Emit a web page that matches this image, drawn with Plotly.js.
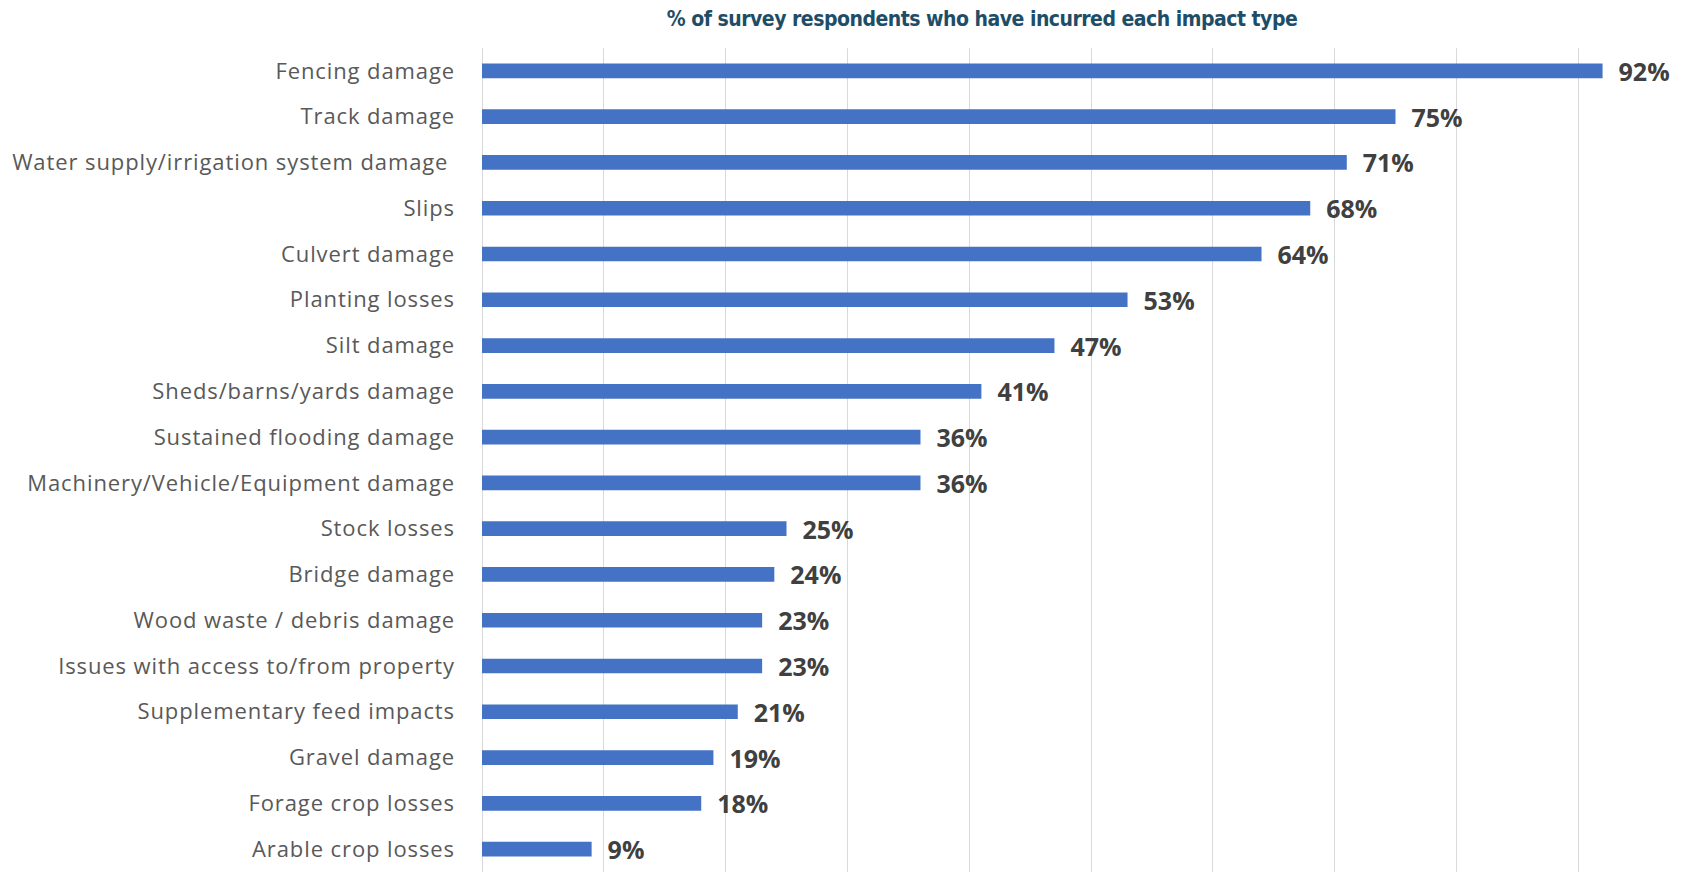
<!DOCTYPE html>
<html>
<head>
<meta charset="utf-8">
<script src="https://cdn.plot.ly/plotly-3.0.1.min.js"></script>
<style>
  html, body { margin: 0; padding: 0; background: #ffffff; }
  #chart { width: 1702px; height: 872px; }
  #chart .ytick text { letter-spacing: 0.9px; }
  #chart .gtitle { letter-spacing: -0.5px; }
</style>
</head>
<body>
<div id="chart"></div>
<script>
const categories = [
  "Fencing damage",
  "Track damage",
  "Water supply/irrigation system damage\u00a0",
  "Slips",
  "Culvert damage",
  "Planting losses",
  "Silt damage",
  "Sheds/barns/yards damage",
  "Sustained flooding damage",
  "Machinery/Vehicle/Equipment damage",
  "Stock losses",
  "Bridge damage",
  "Wood waste / debris damage",
  "Issues with access to/from property",
  "Supplementary feed impacts",
  "Gravel damage",
  "Forage crop losses",
  "Arable crop losses"
];
const percentages = [92, 75, 71, 68, 64, 53, 47, 41, 36, 36, 25, 24, 23, 23, 21, 19, 18, 9];
const chartTitle = "% of survey respondents who have incurred each impact type";
const valueLabels = percentages.map(v => "\u00a0\u00a0" + v + "%");

const trace = {
  type: "bar",
  orientation: "h",
  x: percentages,
  y: categories,
  text: valueLabels,
  textposition: "outside",
  constraintext: "none",
  cliponaxis: false,
  textfont: { family: "Open Sans, sans-serif", size: 25, color: "#404040", weight: "bold" },
  marker: { color: "#4472C4" },
  width: 0.32,
  hoverinfo: "none"
};

const layout = {
  width: 1702,
  height: 872,
  paper_bgcolor: "#ffffff",
  plot_bgcolor: "#ffffff",
  margin: { l: 482, r: 2, t: 48, b: 0, pad: 0 },
  showlegend: false,
  title: {
    text: chartTitle,
    font: { family: "Liberation Sans Narrow, DejaVu Sans Condensed, sans-serif", size: 21, color: "#1E4D67", weight: "bold" },
    x: 982 / 1702,
    xref: "container",
    xanchor: "center",
    y: 1 - 19 / 872,
    yref: "container",
    yanchor: "middle"
  },
  xaxis: {
    range: [0, 100],
    dtick: 10,
    tick0: 0,
    showgrid: true,
    gridcolor: "#D9D9D9",
    gridwidth: 1,
    zeroline: true,
    zerolinecolor: "#D9D9D9",
    zerolinewidth: 1,
    showticklabels: false,
    ticks: "",
    showline: false,
    fixedrange: true
  },
  yaxis: {
    type: "category",
    autorange: "reversed",
    showgrid: false,
    zeroline: false,
    showline: false,
    ticks: "",
    ticklabelstandoff: 26,
    tickfont: { family: "Open Sans, sans-serif", size: 22, color: "#595959" },
    fixedrange: true
  }
};

Plotly.newPlot("chart", [trace], layout, { displayModeBar: false, staticPlot: true });
</script>
</body>
</html>
